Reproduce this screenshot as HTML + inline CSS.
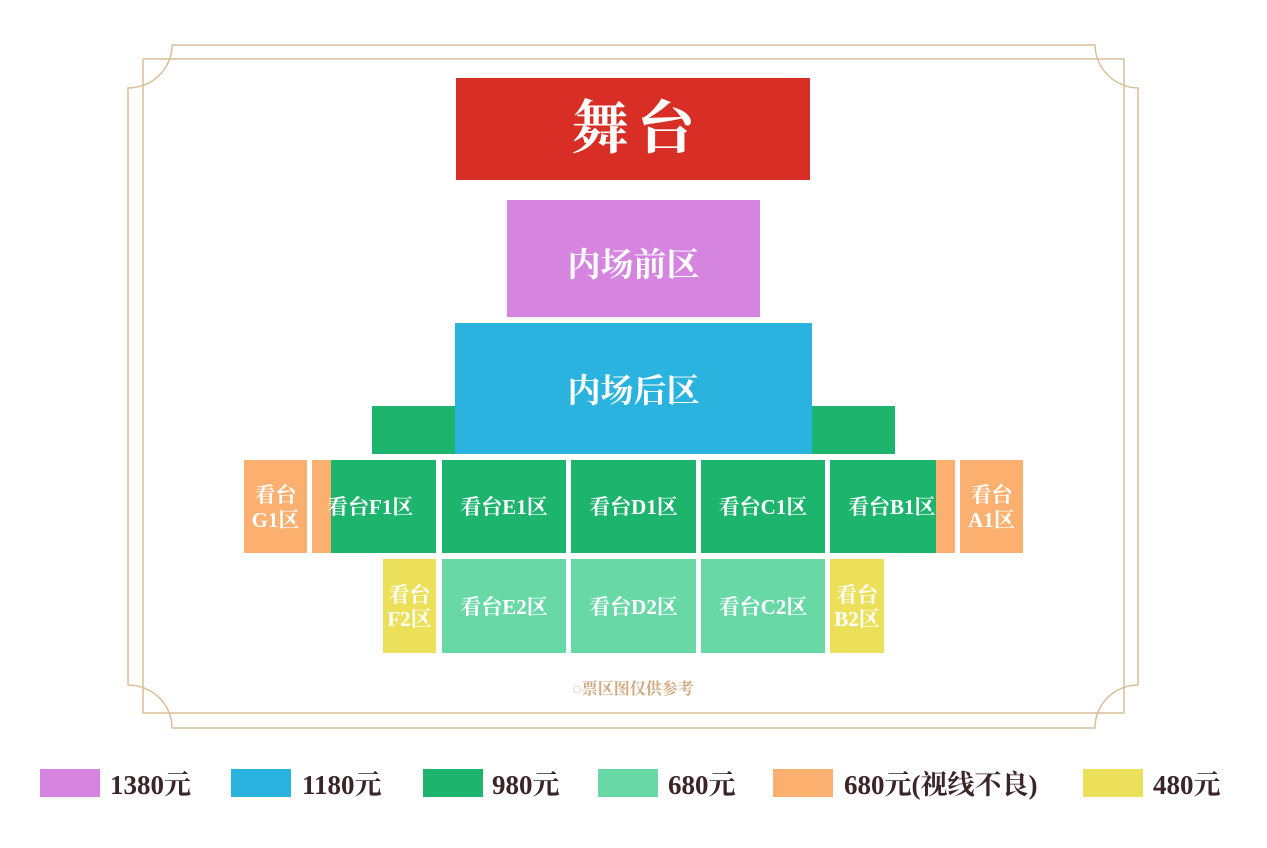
<!DOCTYPE html>
<html><head><meta charset="utf-8"><style>
body{margin:0;width:1267px;height:848px;background:#fff;position:relative;overflow:hidden;font-family:"Liberation Serif","Noto Serif CJK SC",serif;}
.b{position:absolute;color:#fff;font-weight:bold;display:flex;align-items:center;justify-content:center;text-align:center;line-height:1.15;white-space:nowrap}
.g{background:#1db56e}.lg{background:#68d9a6}.o{background:#fbb070}.y{background:#ece05a}
.s{font-size:21px;padding-top:2px;box-sizing:border-box}
.sw{position:absolute;top:769px;width:60px;height:28px}
.lt{position:absolute;top:763px;font-size:27px;color:#3a2528;font-weight:bold;font-family:"Liberation Serif","Noto Serif CJK SC",serif}
</style></head><body>
<svg width="1267" height="848" style="position:absolute;left:0;top:0">
<g fill="none" stroke="#d9bf95" stroke-width="1.5">
<path d="M172,45 L1095,45 A44,44 0 0 0 1138,88 L1138,685 A43,43 0 0 0 1095,728 L172,728 A44,43 0 0 0 128,685 L128,88 A44,43 0 0 0 172,45 Z"/>
<rect x="143" y="59" width="981" height="654"/>
</g></svg>
<div class="b" style="left:456px;top:78px;width:354px;height:102px;background:#d92e25;font-size:58px;letter-spacing:8px;padding-left:8px;box-sizing:border-box">舞台</div>
<div class="b" style="left:507px;top:200px;width:253px;height:117px;background:#d585e0;font-size:33px;padding-top:16px;box-sizing:border-box">内场前区</div>
<div class="b g" style="left:372px;top:406px;width:90px;height:48px"></div>
<div class="b g" style="left:805px;top:406px;width:90px;height:48px"></div>
<div class="b" style="left:455px;top:323px;width:357px;height:131px;background:#2bb3e0;font-size:33px;padding-top:8px;box-sizing:border-box">内场后区</div>
<div class="b o s" style="left:244px;top:460px;width:63px;height:93px">看台<br>G1区</div>
<div class="b o" style="left:312px;top:460px;width:20px;height:93px"></div>
<div class="b g s" style="left:331px;top:460px;width:105px;height:93px;justify-content:flex-start"><span style="margin-left:-4px">看台F1区</span></div>
<div class="b g s" style="left:442px;top:460px;width:124px;height:93px">看台E1区</div>
<div class="b g s" style="left:571px;top:460px;width:125px;height:93px">看台D1区</div>
<div class="b g s" style="left:701px;top:460px;width:124px;height:93px">看台C1区</div>
<div class="b o" style="left:936px;top:460px;width:19px;height:93px"></div>
<div class="b g s" style="left:830px;top:460px;width:106px;height:93px;justify-content:flex-start;overflow:visible"><span style="margin-left:18px">看台B1区</span></div>
<div class="b o s" style="left:960px;top:460px;width:63px;height:93px">看台<br>A1区</div>
<div class="b y s" style="left:383px;top:559px;width:53px;height:94px">看台<br>F2区</div>
<div class="b lg s" style="left:442px;top:559px;width:124px;height:94px">看台E2区</div>
<div class="b lg s" style="left:571px;top:559px;width:125px;height:94px">看台D2区</div>
<div class="b lg s" style="left:701px;top:559px;width:124px;height:94px">看台C2区</div>
<div class="b y s" style="left:830px;top:559px;width:54px;height:94px">看台<br>B2区</div>
<div style="position:absolute;left:553px;top:676px;width:160px;text-align:center;font-size:16px;color:#d0aa80;font-weight:bold">◌票区图仅供参考</div>
<div class="sw" style="left:40px;background:#d585e0"></div><div class="lt" style="left:110px">1380元</div>
<div class="sw" style="left:231px;background:#2bb3e0"></div><div class="lt" style="left:302px">1180元</div>
<div class="sw" style="left:423px;background:#1db56e"></div><div class="lt" style="left:492px">980元</div>
<div class="sw" style="left:598px;background:#68d9a6"></div><div class="lt" style="left:668px">680元</div>
<div class="sw" style="left:773px;background:#fbb070"></div><div class="lt" style="left:844px">680元(视线不良)</div>
<div class="sw" style="left:1083px;background:#ece05a"></div><div class="lt" style="left:1153px">480元</div>
</body></html>
